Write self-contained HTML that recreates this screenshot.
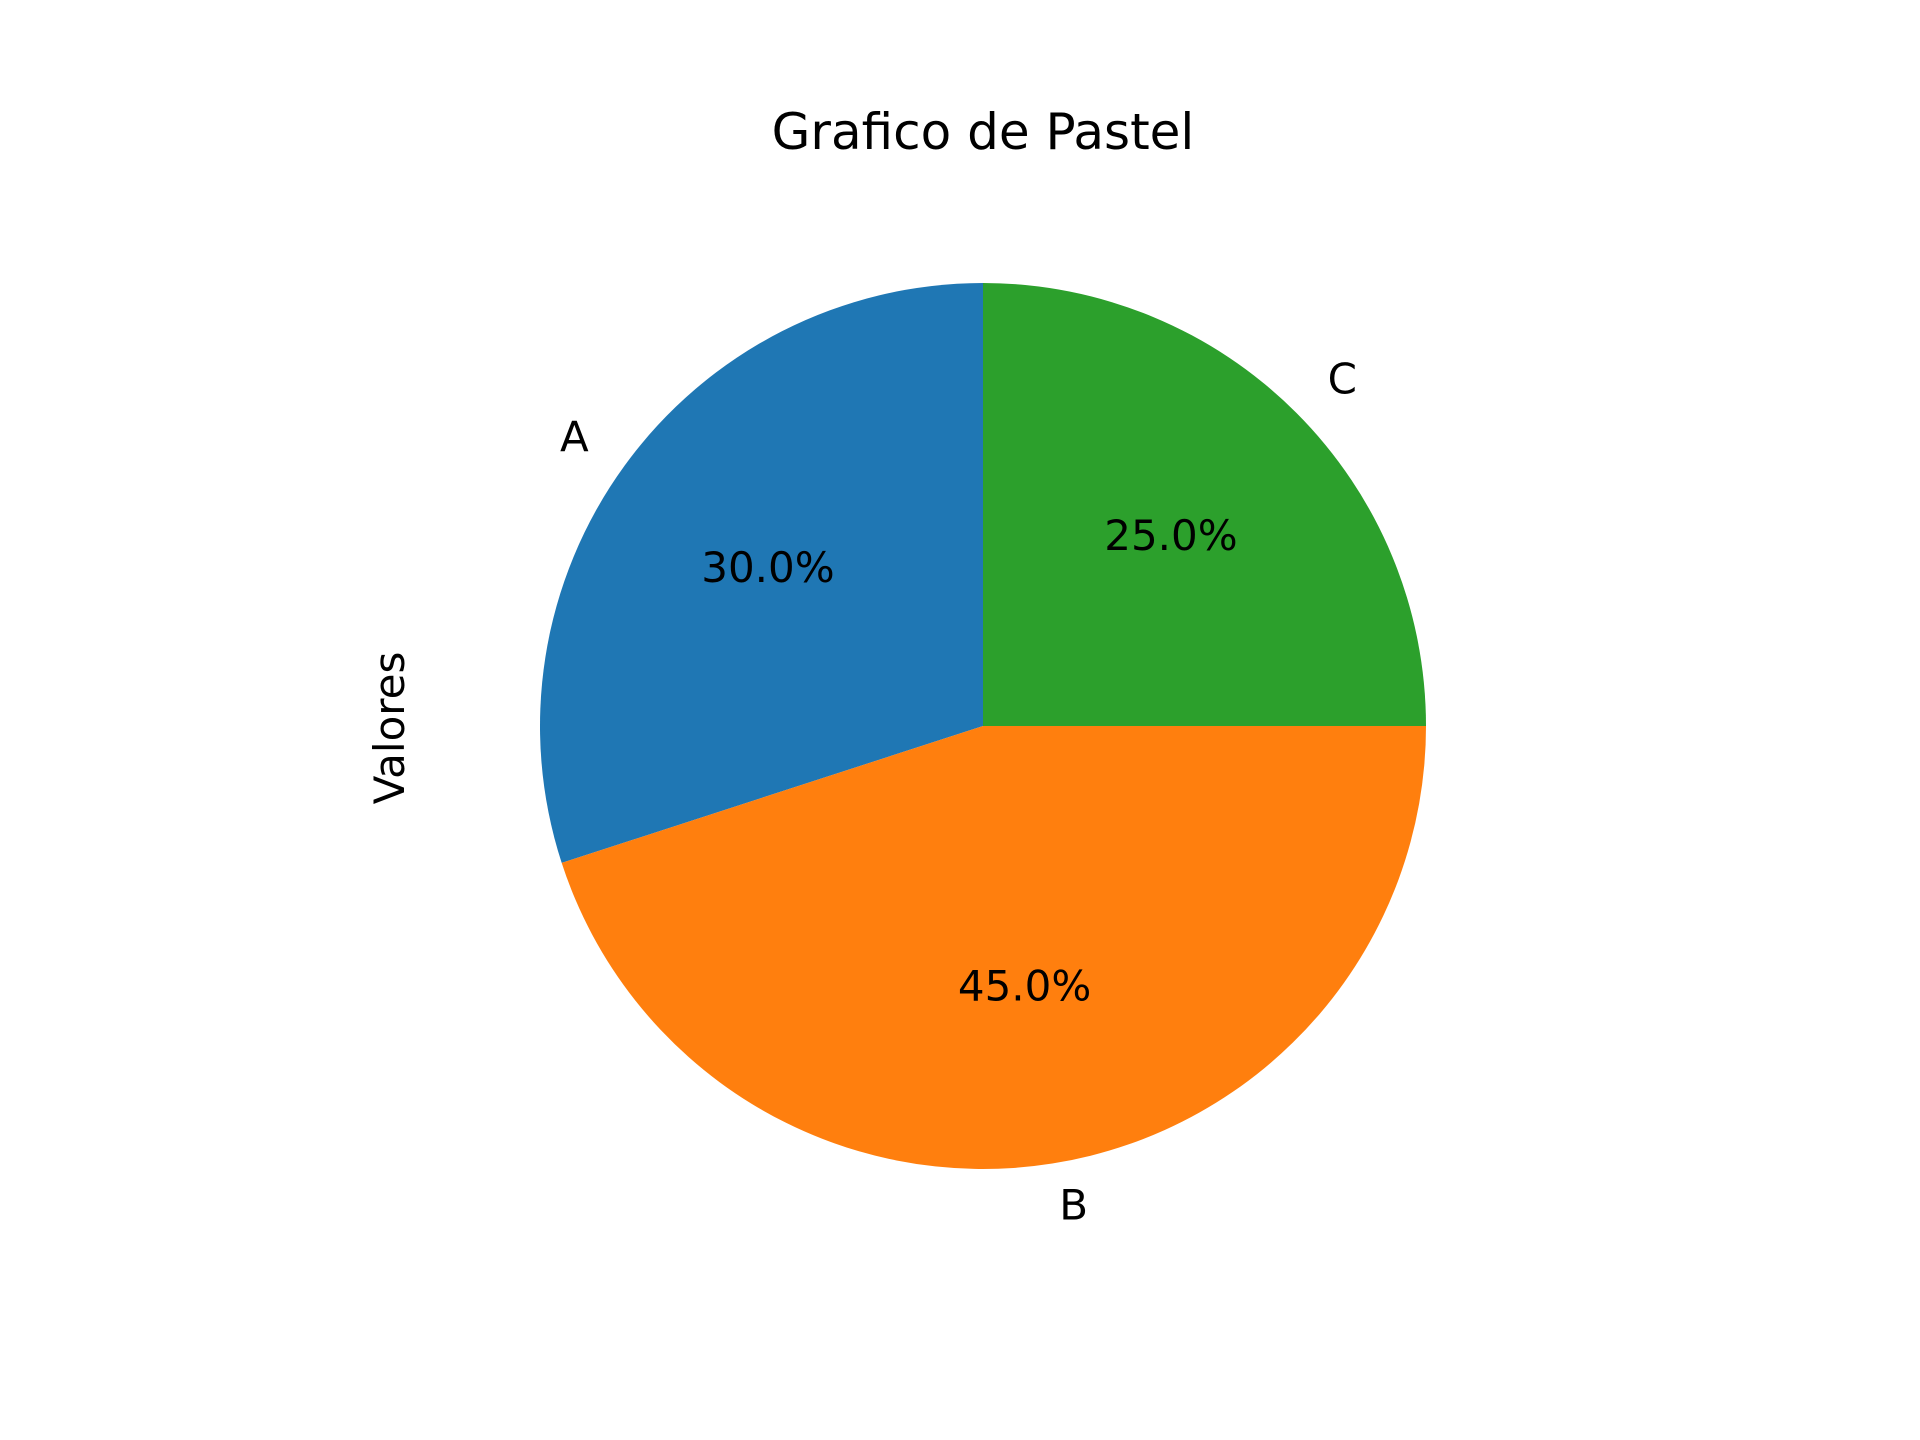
<!DOCTYPE html>
<html>
<head>
<meta charset="utf-8">
<style>
  html,body{margin:0;padding:0;background:#fff;}
  svg{display:block;font-family:"DejaVu Sans","Liberation Sans",sans-serif;}
</style>
</head>
<body>
<svg id="chart" width="1920" height="1440" viewBox="0 0 1920 1440" xmlns="http://www.w3.org/2000/svg">
  <rect width="1920" height="1440" fill="#fff"/>
  <text x="983" y="149" font-size="50" text-anchor="middle" fill="#000">Grafico de Pastel</text>
  <text x="0" y="0" font-size="42" text-anchor="middle" fill="#000" transform="translate(404,728) rotate(-90)">Valores</text>
  <g id="slices"></g>
  <g id="labels"></g>
</svg>
<script>
const categories = ["A", "B", "C"];
const values = [30, 45, 25];
const colors = ["#1f77b4", "#ff7f0e", "#2ca02c"];

const cx = 983, cy = 726, R = 443, startAngle = 90;
const NS = "http://www.w3.org/2000/svg";
const gS = document.getElementById("slices");
const gL = document.getElementById("labels");
const total = values.reduce((a, b) => a + b, 0);
function pt(deg, r) {
  const a = deg * Math.PI / 180;
  return [cx + r * Math.cos(a), cy - r * Math.sin(a)];
}
let ang = startAngle;
values.forEach((v, i) => {
  const sweep = v / total * 360;
  const a0 = ang, a1 = ang + sweep;
  const p0 = pt(a0, R), p1 = pt(a1, R);
  const large = sweep > 180 ? 1 : 0;
  const path = document.createElementNS(NS, "path");
  path.setAttribute("d", `M${cx},${cy} L${p0[0]},${p0[1]} A${R},${R} 0 ${large} 0 ${p1[0]},${p1[1]} Z`);
  path.setAttribute("fill", colors[i]);
  
  
  gS.appendChild(path);

  const mid = (a0 + a1) / 2;
  const lp = pt(mid, 1.1 * R);
  const lab = document.createElementNS(NS, "text");
  lab.setAttribute("x", lp[0]);
  lab.setAttribute("y", lp[1] + 12);
  lab.setAttribute("font-size", "42");
  const cosv = Math.cos(mid * Math.PI / 180);
  lab.setAttribute("text-anchor", cosv < -1e-6 ? "end" : (cosv > 1e-6 ? "start" : "middle"));
  lab.textContent = categories[i];
  
  
  gL.appendChild(lab);

  const pp = pt(mid, 0.6 * R);
  const pct = document.createElementNS(NS, "text");
  pct.setAttribute("x", pp[0]);
  pct.setAttribute("y", pp[1] + 12);
  pct.setAttribute("font-size", "42");
  pct.setAttribute("text-anchor", "middle");
  pct.textContent = (v / total * 100).toFixed(1) + "%";
  
  
  gL.appendChild(pct);

  ang = a1;
});
</script>
</body>
</html>
